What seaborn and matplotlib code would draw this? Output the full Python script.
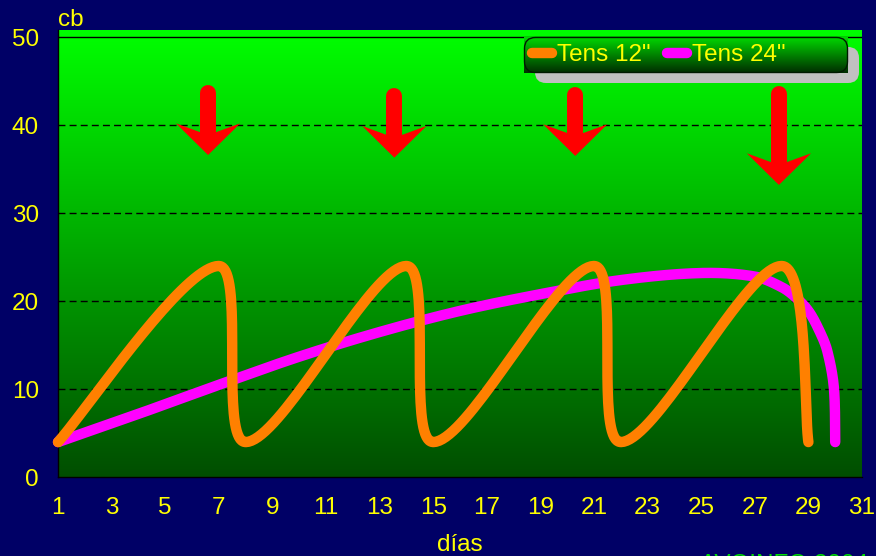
import numpy as np
import matplotlib
matplotlib.use("Agg")
import matplotlib.pyplot as plt
from matplotlib.patches import FancyBboxPatch, Polygon
import seaborn as sns

# Tensiometer readings (cb) by day of month
DAYS_12 = [1, 7, 8, 14, 15, 21, 22, 28, 29]
TENS_12 = [4, 24, 4, 24, 4, 24, 4, 24, 4]

DAYS_24 = [1, 4, 7, 10, 13, 16, 19, 22, 25, 27, 28, 28.5, 29, 29.4, 29.7, 29.95, 30]
TENS_24 = [4.0, 7.2, 10.5, 13.7, 16.5, 18.9, 20.8, 22.4, 23.2, 22.8, 21.6, 20.5,
           18.9, 16.7, 14.4, 10.2, 4.0]

SERIES_LABELS = ['Tens 12"', 'Tens 24"']
SERIES_COLORS = ['#FF8000', '#FF00FF']

X_TICKS = list(range(1, 32, 2))
Y_TICKS = [0, 10, 20, 30, 40, 50]

# Irrigation events (arrow position, shaft top, arrow tip)
IRRIGATION_DAYS = [6.6, 13.55, 20.3, 27.9]
ARROW_TOP = [43.7, 43.3, 43.4, 43.5]
ARROW_TIP = [36.6, 36.3, 36.5, 33.2]

NAVY = '#000066'
YELLOW = '#FFFF00'
FS = 17.5

sns.set_theme(style="white")
plt.rcParams['font.family'] = ['Liberation Sans', 'DejaVu Sans']

W, H = 876, 556
X0, X1 = 1, 31
Y0, Y1 = 0, 50.8
ax_l, ax_r, ax_t, ax_b = 58, 862, 30, 477.3
X_ASPECT = ((ax_r - ax_l) / (X1 - X0)) / ((ax_b - ax_t) / (Y1 - Y0))


def smooth(xs, ys, n=40):
    """Smoothed path through the points: cubic Bezier segments with
    chord-length Catmull-Rom tangents (chords measured on screen scale)."""
    p = np.column_stack([np.asarray(xs, float) * X_ASPECT, np.asarray(ys, float)])
    d = np.linalg.norm(np.diff(p, axis=0), axis=1)
    m = np.zeros_like(p)
    m[0] = (p[1] - p[0]) / (2 * d[0])
    m[-1] = (p[-1] - p[-2]) / (2 * d[-1])
    for i in range(1, len(p) - 1):
        m[i] = (p[i + 1] - p[i - 1]) / (d[i - 1] + d[i])
    t = np.linspace(0, 1, n)[1:, None]
    out = [p[:1]]
    for i in range(len(p) - 1):
        c1 = p[i] + m[i] * d[i] / 3
        c2 = p[i + 1] - m[i + 1] * d[i] / 3
        seg = ((1 - t) ** 3 * p[i] + 3 * (1 - t) ** 2 * t * c1
               + 3 * (1 - t) * t ** 2 * c2 + t ** 3 * p[i + 1])
        out.append(seg)
    arr = np.vstack(out)
    return arr[:, 0] / X_ASPECT, arr[:, 1]


fig = plt.figure(figsize=(W / 100, H / 100), dpi=100, facecolor=NAVY)
ax = fig.add_axes([ax_l / W, 1 - ax_b / H, (ax_r - ax_l) / W, (ax_b - ax_t) / H])

# plot area: vertical green gradient
grad = np.zeros((256, 1, 3))
grad[:, 0, 1] = np.linspace(255, 78, 256) / 255
ax.imshow(grad, extent=[X0, X1, Y0, Y1], aspect='auto', zorder=0, interpolation='bilinear')

for y in Y_TICKS[1:-1]:
    ax.axhline(y, color='black', lw=1, linestyle=(0, (5, 3)), zorder=1)
ax.axhline(Y_TICKS[-1], color='black', lw=1, zorder=1)

# series (24" below 12")
x24, y24 = smooth(DAYS_24, TENS_24)
x12, y12 = smooth(DAYS_12, TENS_12)
sns.lineplot(x=x24, y=y24, sort=False, estimator=None, color=SERIES_COLORS[1],
             linewidth=7.5, solid_capstyle='round', solid_joinstyle='round',
             label=SERIES_LABELS[1], ax=ax, zorder=4, clip_on=False)
sns.lineplot(x=x12, y=y12, sort=False, estimator=None, color=SERIES_COLORS[0],
             linewidth=7.5, solid_capstyle='round', solid_joinstyle='round',
             label=SERIES_LABELS[0], ax=ax, zorder=5, clip_on=False)

# irrigation arrows
HEAD_HALF = 1.2
HEAD_LEN = 3.6
NOTCH = 2.6
SHAFT_HALF = 0.3
for xd, top, tip in zip(IRRIGATION_DAYS, ARROW_TOP, ARROW_TIP):
    ax.plot([xd, xd], [top, tip + NOTCH - 0.3], color='#FF0000', lw=11.5,
            solid_capstyle='round', zorder=6)
    head = Polygon([(xd - HEAD_HALF, tip + HEAD_LEN), (xd, tip),
                    (xd + HEAD_HALF, tip + HEAD_LEN), (xd + SHAFT_HALF, tip + NOTCH),
                    (xd - SHAFT_HALF, tip + NOTCH)],
                   closed=True, fc='#FF0000', ec='none', zorder=6)
    ax.add_patch(head)

ax.set_xlim(X0, X1)
ax.set_ylim(Y0, Y1)
ax.set_xticks(X_TICKS)
ax.set_yticks(Y_TICKS)
ax.set_xlabel('')
ax.set_ylabel('')
ax.tick_params(axis='both', length=0, labelcolor=YELLOW, labelsize=FS)
ax.tick_params(axis='y', pad=13.7)
ax.tick_params(axis='x', pad=14.5)
ax.grid(False)
for side in ['top', 'right']:
    ax.spines[side].set_visible(False)
for side in ['left', 'bottom']:
    ax.spines[side].set_color('black')
    ax.spines[side].set_linewidth(1)
    ax.spines[side].set_zorder(3)

handles, labels = ax.get_legend_handles_labels()
ax.get_legend().remove()
order = [labels.index(l) for l in SERIES_LABELS]
handles = [handles[i] for i in order]
labels = [labels[i] for i in order]

# legend panel with gradient fill and drop shadow
lg_l, lg_t, lg_w, lg_h = 524, 37, 324, 36
lax = fig.add_axes([lg_l / W, 1 - (lg_t + lg_h) / H, lg_w / W, lg_h / H])
lax.axis('off')
lgrad = np.zeros((64, 1, 3))
lgrad[:, 0, 1] = np.linspace(215, 45, 64) / 255
shadow = FancyBboxPatch((11, -10), lg_w, lg_h, boxstyle='round,pad=0,rounding_size=11',
                        fc='#C0C0C0', ec='none', clip_on=False, zorder=0.5)
lax.add_patch(shadow)
lax.imshow(lgrad, extent=[0, lg_w, 0, lg_h], aspect='auto', zorder=1, interpolation='bilinear')
outline = FancyBboxPatch((0.5, 0.5), lg_w - 1, lg_h - 1, boxstyle='round,pad=0,rounding_size=11',
                         fill=False, ec='#001A00', lw=1, zorder=2, clip_on=False)
lax.add_patch(outline)
lax.set_xlim(0, lg_w)
lax.set_ylim(0, lg_h)
lax.legend(handles, labels, ncol=2, frameon=False, loc='center left',
           bbox_to_anchor=(532 / W, 1 - 55 / H), bbox_transform=fig.transFigure,
           handlelength=0.82, handletextpad=0.2, columnspacing=0.7,
           borderaxespad=0, borderpad=0, fontsize=FS, labelcolor=YELLOW)

fig.text(ax_l / W, 1 - 26 / H, 'cb', ha='left', va='baseline', color=YELLOW, fontsize=FS)
fig.text((ax_l + ax_r) / 2 / W, 1 - 551 / H, 'días', ha='center', va='baseline',
         color=YELLOW, fontsize=FS)
fig.text(700 / W, 1 - 571 / H, 'AVOINFO 2004', ha='left', va='baseline',
         color='#00DD00', fontsize=FS)

fig.savefig('out.png', dpi=100, facecolor=fig.get_facecolor())
